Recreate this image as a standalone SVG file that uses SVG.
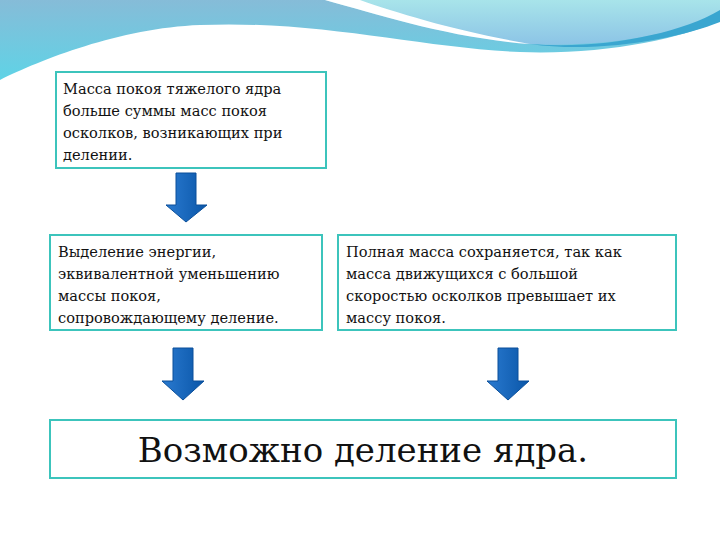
<svg xmlns="http://www.w3.org/2000/svg" width="720" height="540" viewBox="0 0 720 540">
<defs>
<linearGradient id="bg" x1="0" y1="0" x2="0" y2="1"><stop offset="0" stop-color="#86bcd8"/><stop offset="1" stop-color="#5fd3e6"/></linearGradient>
<linearGradient id="bg2" x1="0" y1="0" x2="0" y2="1"><stop offset="0" stop-color="#a8e4ea"/><stop offset="1" stop-color="#8cc4e6"/></linearGradient>
<linearGradient id="ar" x1="0" y1="0" x2="1" y2="0"><stop offset="0" stop-color="#2a7ad0"/><stop offset="1" stop-color="#0a56a8"/></linearGradient>
<style>
.box{fill:#fff;stroke:#3cc4bc;stroke-width:2}
.t{font-family:"DejaVu Serif","Liberation Serif",serif;font-size:14.6px;fill:#111}
.big{font-family:"DejaVu Serif","Liberation Serif",serif;font-size:34px;fill:#111}
.arr{fill:url(#ar);stroke:#0a4f9a;stroke-width:1}
</style>
</defs>
<rect width="720" height="540" fill="#fff"/>
<path d="M0,0 H720 V20 C680,40 600,55 520,52 C420,48 320,20 200,25 C120,28 40,60 0,80 Z" fill="url(#bg)"/>
<path d="M325,0 H720 V14 C680,34 600,48 530,44 C450,38 380,15 325,0 Z" fill="url(#bg2)"/>
<path d="M325,0 C380,15 450,38 530,44 C460,32 400,14 360,0 Z" fill="#fff"/>
<path d="M720,10 C680,34 600,50 530,44 C600,54 680,38 720,22 Z" fill="#3aa6d0"/>
<g id="connectors">
<path class="arr" d="M176,173 H196 V205 H207 L186,222 L166,205 H176 Z"/>
<path class="arr" d="M173,348 H193 V381 H204 L183,400 L162,381 H173 Z"/>
<path class="arr" d="M498,348 H518 V381 H529 L508,400 L487,381 H498 Z"/>
</g>
<g id="n1"><rect class="box" x="56" y="72" width="270" height="96"/>
<text class="t"><tspan x="63" y="94">Масса покоя тяжелого ядра</tspan><tspan x="63" y="116">больше суммы масс покоя</tspan><tspan x="63" y="138">осколков, возникающих при</tspan><tspan x="63" y="160">делении.</tspan></text></g>
<g id="n2"><rect class="box" x="50" y="235" width="272" height="95"/>
<text class="t"><tspan x="58" y="257">Выделение энергии,</tspan><tspan x="58" y="279">эквивалентной уменьшению</tspan><tspan x="58" y="301">массы покоя,</tspan><tspan x="58" y="323">сопровождающему деление.</tspan></text></g>
<g id="n3"><rect class="box" x="338" y="235" width="338" height="95"/>
<text class="t"><tspan x="346" y="257">Полная масса сохраняется, так как</tspan><tspan x="346" y="279">масса движущихся с большой</tspan><tspan x="346" y="301">скоростью осколков превышает их</tspan><tspan x="346" y="323">массу покоя.</tspan></text></g>
<g id="n4"><rect class="box" x="50" y="420" width="626" height="58"/>
<text class="big" x="363" y="462" text-anchor="middle">Возможно деление ядра.</text></g>
</svg>
